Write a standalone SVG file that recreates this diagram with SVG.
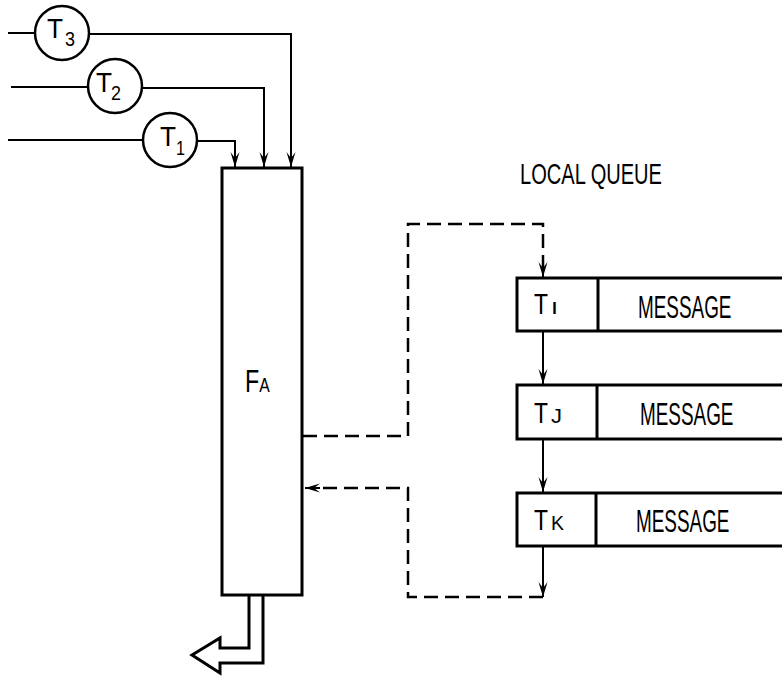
<svg xmlns="http://www.w3.org/2000/svg" width="782" height="676" viewBox="0 0 782 676">
<defs>
<style>
.ln{fill:none;stroke:#000;stroke-width:2}
.dash{fill:none;stroke:#000;stroke-width:2.5;stroke-dasharray:14 7}
.box{fill:#fff;stroke:#000;stroke-width:3}
.circ{fill:#fff;stroke:#000;stroke-width:2.5}
.t{font-family:"Liberation Sans",Arial,sans-serif;fill:#000}
</style>
<marker id="ah" viewBox="-16 -6 17 12" refX="0" refY="0" markerWidth="17" markerHeight="12" markerUnits="userSpaceOnUse" orient="auto">
<path d="M0,0 L-15,-4.5 L-9,0 L-15,4.5 Z" fill="#000"/>
</marker>
</defs>
<rect width="782" height="676" fill="#fff"/>
<g id="connectors">
<path class="ln" d="M8,33 H34"/>
<path class="ln" d="M90,34 H291 V167" marker-end="url(#ah)"/>
<path class="ln" d="M11,87 H88"/>
<path class="ln" d="M143,88 H264 V167" marker-end="url(#ah)"/>
<path class="ln" d="M8,140 H143"/>
<path class="ln" d="M197,141 H235 V167" marker-end="url(#ah)"/>
<path class="dash" d="M303,436 H408 V224 H543 V266"/>
<path class="ln" d="M543,262 V277" marker-end="url(#ah)"/>
<path class="ln" d="M543,331 V384" marker-end="url(#ah)"/>
<path class="ln" d="M543,439 V492" marker-end="url(#ah)"/>
<path class="ln" d="M543,546 V597" marker-end="url(#ah)"/>
<path class="dash" d="M543,597 H408 V488 H318"/>
<path class="ln" d="M320,488 H305" marker-end="url(#ah)"/>
<path d="M249,596 V648 H220 V638 L192,655 L220,673 V663 H263 V596" fill="#fff" stroke="#000" stroke-width="3" stroke-linejoin="miter"/>
</g>
<g id="T3">
<circle class="circ" cx="62" cy="33" r="27"/>
<text class="t" x="47" y="38" font-size="27" textLength="16" lengthAdjust="spacingAndGlyphs">T</text>
<text class="t" x="65" y="46" font-size="21" textLength="10" lengthAdjust="spacingAndGlyphs">3</text>
</g>
<g id="T2">
<circle class="circ" cx="115" cy="86" r="27"/>
<text class="t" x="96" y="92" font-size="27" textLength="16" lengthAdjust="spacingAndGlyphs">T</text>
<text class="t" x="111" y="100" font-size="21" textLength="10" lengthAdjust="spacingAndGlyphs">2</text>
</g>
<g id="T1">
<circle class="circ" cx="170" cy="140" r="27"/>
<text class="t" x="160" y="146" font-size="27" textLength="16" lengthAdjust="spacingAndGlyphs">T</text>
<text class="t" x="176" y="155" font-size="21" textLength="9" lengthAdjust="spacingAndGlyphs">1</text>
</g>
<g id="FA">
<rect class="box" x="222" y="168" width="80" height="427"/>
<text class="t" transform="translate(245,392) scale(0.75,1)" x="0" y="0" font-size="31">F<tspan font-size="21">A</tspan></text>
</g>
<g id="label-local-queue">
<text class="t" x="520" y="184" font-size="30" textLength="142" lengthAdjust="spacingAndGlyphs">LOCAL QUEUE</text>
</g>
<g id="queue-TI">
<rect class="box" x="517" y="278" width="280" height="53"/>
<line x1="598" y1="278" x2="598" y2="331" stroke="#000" stroke-width="3"/>
<text class="t" x="534" y="314" font-size="29" textLength="14" lengthAdjust="spacingAndGlyphs">T</text>
<text class="t" x="551" y="314" font-size="17" textLength="7" lengthAdjust="spacingAndGlyphs">I</text>
<text class="t" transform="translate(638,318) scale(0.61,1)" font-size="31">MESSAGE</text>
</g>
<g id="queue-TJ">
<rect class="box" x="517" y="385" width="280" height="54"/>
<line x1="597" y1="385" x2="597" y2="439" stroke="#000" stroke-width="3"/>
<text class="t" x="534" y="423" font-size="29" textLength="14" lengthAdjust="spacingAndGlyphs">T</text>
<text class="t" x="551" y="423" font-size="20" textLength="11" lengthAdjust="spacingAndGlyphs">J</text>
<text class="t" transform="translate(640,425) scale(0.61,1)" font-size="31">MESSAGE</text>
</g>
<g id="queue-TK">
<rect class="box" x="517" y="493" width="280" height="53"/>
<line x1="596" y1="493" x2="596" y2="546" stroke="#000" stroke-width="3"/>
<text class="t" x="534" y="530" font-size="29" textLength="14" lengthAdjust="spacingAndGlyphs">T</text>
<text class="t" x="551" y="530" font-size="20" textLength="13" lengthAdjust="spacingAndGlyphs">K</text>
<text class="t" transform="translate(636,532) scale(0.61,1)" font-size="31">MESSAGE</text>
</g>
</svg>
